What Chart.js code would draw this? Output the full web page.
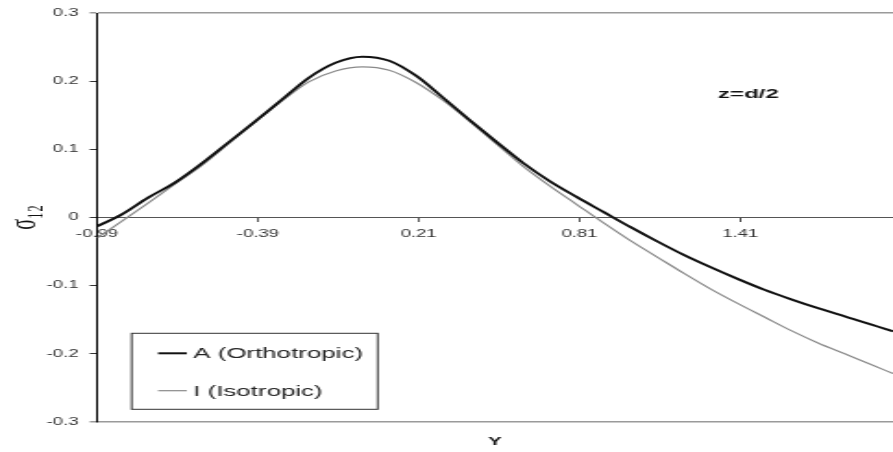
<!DOCTYPE html>
<html>
<head>
<meta charset="utf-8">
<script src="https://cdn.jsdelivr.net/npm/chart.js@4.4.0/dist/chart.umd.min.js"></script>
<style>
  html, body { margin: 0; padding: 0; background: #fff; }
</style>
</head>
<body>
<!-- the reference is a horizontally stretched picture, so the canvas is too -->
<canvas id="chart" width="483" height="452" style="width:893px;height:452px;"></canvas>
<script>
// values
const yPos = [-0.99, -0.9, -0.8, -0.7, -0.6, -0.5, -0.4, -0.3, -0.2, -0.1, 0.0,
  0.1, 0.2, 0.3, 0.4, 0.5, 0.6, 0.7, 0.8, 0.9, 1.0,
  1.1, 1.2, 1.3, 1.4, 1.5, 1.6, 1.7, 1.8, 1.9, 1.98];

const orthotropic = [-0.013, 0.004, 0.029, 0.051, 0.079, 0.110, 0.141, 0.173, 0.205, 0.227, 0.236,
  0.230, 0.208, 0.176, 0.143, 0.111, 0.080, 0.053, 0.030, 0.008, -0.014,
  -0.035, -0.055, -0.073, -0.090, -0.106, -0.120, -0.133, -0.145, -0.157, -0.167];

const isotropic = [-0.030, -0.006, 0.021, 0.049, 0.076, 0.108, 0.140, 0.171, 0.199, 0.215, 0.221,
  0.216, 0.198, 0.172, 0.141, 0.108, 0.075, 0.046, 0.019, -0.008, -0.034,
  -0.058, -0.082, -0.105, -0.126, -0.146, -0.166, -0.184, -0.200, -0.216, -0.229];

const seriesNames = ['A (Orthotropic)', 'I (Isotropic)'];
const xTicks = [-0.99, -0.39, 0.21, 0.81, 1.41];
const xTickLabels = ['-0.99', '-0.39', '0.21', '0.81', '1.41'];
const note = { text: 'z=d/2', x: 1.44, y: 0.18 };

Chart.defaults.font.family = "'Liberation Sans', Arial, sans-serif";

function toPoints(vals) {
  return yPos.map((x, i) => ({ x: x, y: vals[i] }));
}

// legend in a box at the lower left, like the original
const boxLegend = {
  id: 'boxLegend',
  afterDraw(chart) {
    const ctx = chart.ctx;
    const sets = chart.data.datasets;
    const left = 71.2, top = 333.3, bottom = 409.3;
    const rows = [353.3, 390.7];
    ctx.save();
    ctx.font = "14px 'Liberation Sans', Arial, sans-serif";
    let w = 0;
    sets.forEach(d => { w = Math.max(w, ctx.measureText(d.label).width); });
    const right = 104.5 + w + 8;
    ctx.strokeStyle = '#333';
    ctx.lineWidth = 1;
    ctx.strokeRect(left, top, right - left, bottom - top);
    sets.forEach((d, i) => {
      ctx.strokeStyle = d.borderColor;
      ctx.lineWidth = d.borderWidth;
      ctx.beginPath();
      ctx.moveTo(85.5, rows[i]);
      ctx.lineTo(101, rows[i]);
      ctx.stroke();
      ctx.fillStyle = '#222';
      ctx.textAlign = 'left';
      ctx.textBaseline = 'middle';
      ctx.fillText(d.label, 104.5, rows[i] + 1);
    });
    ctx.restore();
  }
};

const noteLabel = {
  id: 'noteLabel',
  afterDraw(chart) {
    const ctx = chart.ctx;
    const x = chart.scales.x.getPixelForValue(note.x);
    const y = chart.scales.y.getPixelForValue(note.y);
    ctx.save();
    ctx.font = "bold 13px 'Liberation Sans', Arial, sans-serif";
    ctx.fillStyle = '#111';
    ctx.textAlign = 'center';
    ctx.textBaseline = 'middle';
    ctx.fillText(note.text, x, y);
    ctx.restore();
  }
};

const edge = v => Math.abs(Math.abs(v) - 0.3) < 1e-6;

new Chart(document.getElementById('chart'), {
  type: 'line',
  data: {
    datasets: [
      {
        label: seriesNames[0],
        data: toPoints(orthotropic),
        borderColor: '#111',
        borderWidth: 2,
        pointRadius: 0,
        cubicInterpolationMode: 'monotone',
        xAxisID: 'x'
      },
      {
        label: seriesNames[1],
        data: toPoints(isotropic),
        borderColor: '#8a8a8a',
        borderWidth: 1.2,
        pointRadius: 0,
        cubicInterpolationMode: 'monotone',
        xAxisID: 'x'
      }
    ]
  },
  options: {
    responsive: false,
    devicePixelRatio: 1,
    animation: false,
    layout: { padding: { top: 13, right: 0, bottom: 0, left: 0 } },
    plugins: {
      legend: { display: false },
      tooltip: { enabled: false }
    },
    scales: {
      x: {
        type: 'linear',
        min: -0.99,
        max: 1.98,
        position: 'bottom',
        ticks: { display: false },
        grid: { display: false },
        border: { display: false },
        title: {
          display: true,
          text: 'Y',
          color: '#111',
          font: { size: 11, weight: 'bold' },
          padding: { top: 0, bottom: 3.4 }
        },
        afterFit: s => { s.height = 30; }
      },
      x2: {
        type: 'linear',
        axis: 'x',
        min: -0.99,
        max: 1.98,
        position: { y: 0 },
        afterBuildTicks: s => { s.ticks = xTicks.map(v => ({ value: v })); },
        ticks: {
          color: '#333',
          font: { size: 10 },
          padding: 7,
          maxRotation: 0,
          autoSkip: false,
          callback: (v, i) => xTickLabels[i]
        },
        grid: { drawOnChartArea: false, tickLength: 4, tickColor: '#555' },
        border: { color: '#555', width: 1 }
      },
      y: {
        min: -0.3,
        max: 0.3,
        ticks: {
          stepSize: 0.1,
          color: '#333',
          font: { size: 10 },
          padding: 6,
          callback: v => Math.abs(v) < 1e-9 ? '0' : v.toFixed(1)
        },
        grid: {
          color: c => edge(c.tick.value) ? '#9a9a9a' : 'rgba(0,0,0,0)',
          lineWidth: c => edge(c.tick.value) ? 1.5 : 1,
          tickColor: c => edge(c.tick.value) ? '#9a9a9a' : '#333',
          tickLength: 4
        },
        border: { color: '#000', width: 1 },
        title: {
          display: true,
          text: 'σ₁₂',
          color: '#111',
          font: { family: "'Liberation Serif', 'DejaVu Serif', serif", size: 20 },
          padding: { top: 2, bottom: 0 }
        },
        afterFit: s => { s.width = 52.5; }
      }
    }
  },
  plugins: [boxLegend, noteLabel]
});
</script>
</body>
</html>
